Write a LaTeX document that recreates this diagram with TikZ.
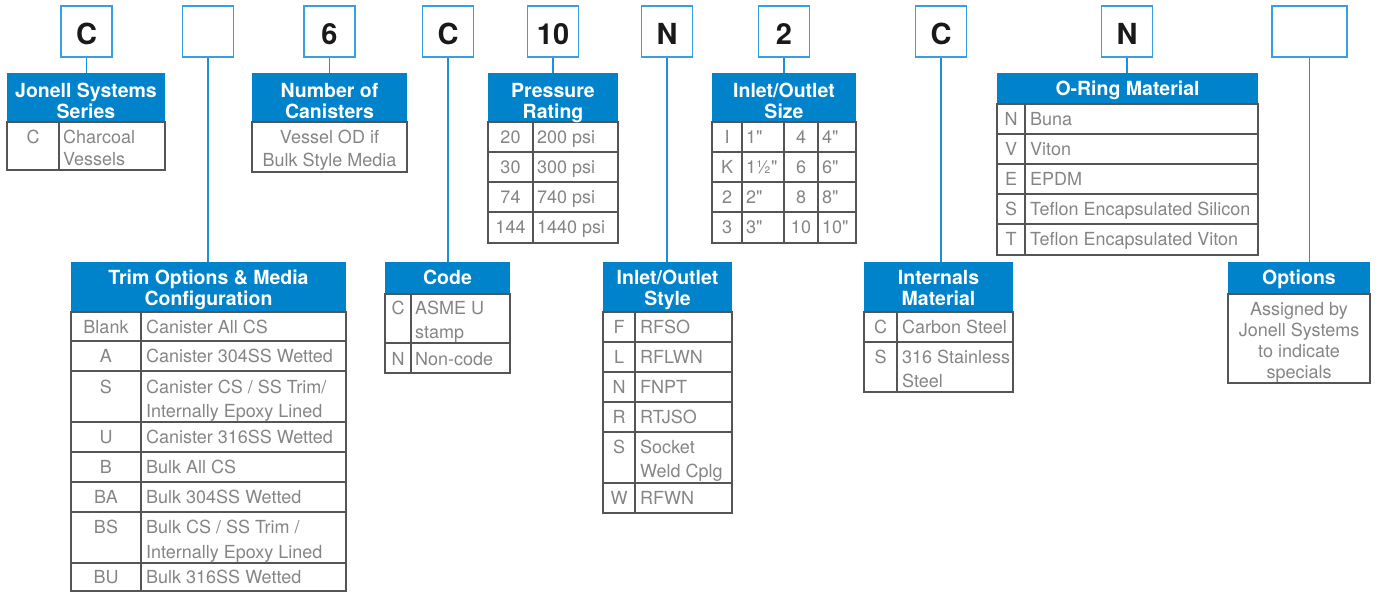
\documentclass[tikz,border=0pt]{standalone}
\usepackage{fontspec}
\setmainfont{TeX Gyre Heros}
\definecolor{hdrblue}{HTML}{0083CA}
\definecolor{boxblue}{HTML}{3A9FE0}
\definecolor{lineblue}{HTML}{1E90D8}
\definecolor{cellgray}{HTML}{555555}
\definecolor{txtgray}{HTML}{858585}
\newcount\tcnt
\newcommand\tn[4][]{\global\advance\tcnt by 1\relax\node[#1] (t\the\tcnt) at (#2,#3) {#4};}
\newcommand\dq{\textquotedbl}
\tikzset{
 topbox/.style={draw=boxblue, line width=1.8pt, minimum width=51pt, minimum height=51pt, inner sep=0pt, font=\fontsize{29}{30}\selectfont\bfseries, text height=26pt, text depth=0pt, text=black!90},
 hdr/.style={fill=hdrblue, inner sep=0pt, outer sep=0pt},
 conn/.style={draw=lineblue, line width=1.8pt},
 gridl/.style={draw=cellgray, line width=1.2pt},
 ht/.style={text=white, font=\fontsize{19.5}{21}\selectfont\bfseries, anchor=base, inner sep=0pt},
 kt/.style={text=txtgray, font=\fontsize{18}{21}\selectfont, anchor=base, inner sep=0pt},
 vt/.style={kt, anchor=base west},
}
\begin{document}
\begin{tikzpicture}[x=1pt,y=-1pt]
\useasboundingbox (0,0) rectangle (1385,592);
% top boxes
\node[topbox] (b1) at (86.5,31.5) {C};
\node[topbox] (b2) at (208,31.5) {};
\node[topbox] (b3) at (329.5,31.5) {6};
\node[topbox] (b4) at (448,31.5) {C};
\node[topbox] (b5) at (553,31.5) {10};
\node[topbox] (b6) at (667,31.5) {N};
\node[topbox] (b7) at (784,31.5) {2};
\node[topbox] (b8) at (941,31.5) {C};
\node[topbox] (b9) at (1127,31.5) {N};
\node[topbox, minimum width=75pt] (b10) at (1309.5,31.5) {};
% headers (named after the box they belong to)
\node[hdr, minimum width=158pt, minimum height=49pt] (h1) at (86,97.5) {};
\node[hdr, minimum width=155pt, minimum height=49pt] (h3) at (329.5,97.5) {};
\node[hdr, minimum width=130pt, minimum height=49pt] (h5) at (553,97.5) {};
\node[hdr, minimum width=144pt, minimum height=49pt] (h7) at (784,97.5) {};
\node[hdr, minimum width=261pt, minimum height=31pt] (h9) at (1127.5,88.5) {};
\node[hdr, minimum width=275pt, minimum height=50pt] (h2) at (208.5,287) {};
\node[hdr, minimum width=125pt, minimum height=32pt] (h4) at (447.5,278) {};
\node[hdr, minimum width=129pt, minimum height=50pt] (h6) at (667.5,287) {};
\node[hdr, minimum width=149pt, minimum height=50pt] (h8) at (938.5,287) {};
\node[hdr, minimum width=142pt, minimum height=32pt] (h10) at (1299,278) {};
% connectors
\foreach \i in {1,...,10}{\draw[conn] (b\i.south) -- (b\i.south |- h\i.north);}
% grids
\draw[gridl] (7,122) rectangle (165,170) (59,122) -- (59,170);
\draw[gridl] (252,122) rectangle (407,172);
\draw[gridl] (488,122) rectangle (618,243);
\foreach \y in {152,182,212}{\draw[gridl] (488,\y) -- (618,\y);}
\draw[gridl] (533,122) -- (533,243);
\draw[gridl] (712,122) rectangle (856,243);
\foreach \y in {152,182,212}{\draw[gridl] (712,\y) -- (856,\y);}
\foreach \x in {742,784,818}{\draw[gridl] (\x,122) -- (\x,243);}
\draw[gridl] (997,104) rectangle (1258,255);
\foreach \y in {134,164,194,224}{\draw[gridl] (997,\y) -- (1258,\y);}
\draw[gridl] (1025,104) -- (1025,255);
\draw[gridl] (71,312) rectangle (346,591);
\foreach \y in {341,371,422,452,482,512,563}{\draw[gridl] (71,\y) -- (346,\y);}
\draw[gridl] (141,312) -- (141,591);
\draw[gridl] (385,294) rectangle (510,373) (385,343) -- (510,343) (411,294) -- (411,373);
\draw[gridl] (603,312) rectangle (732,513);
\foreach \y in {342,372,402,432,483}{\draw[gridl] (603,\y) -- (732,\y);}
\draw[gridl] (635,312) -- (635,513);
\draw[gridl] (864,312) rectangle (1013,392) (864,342) -- (1013,342) (897,312) -- (897,392);
\draw[gridl] (1228,294) rectangle (1370,383);
% header texts
\tn[ht]{86}{97}{Jonell Systems}\tn[ht]{86}{118}{Series}
\tn[ht]{329.5}{97}{Number of}\tn[ht]{329.5}{118}{Canisters}
\tn[ht]{553}{97}{Pressure}\tn[ht]{553}{118}{Rating}
\tn[ht]{784}{97}{Inlet/Outlet}\tn[ht]{784}{118}{Size}
\tn[ht]{1127.5}{95}{O-Ring Material}
\tn[ht]{208.5}{284}{Trim Options \& Media}\tn[ht]{208.5}{305}{Configuration}
\tn[ht]{447.5}{284}{Code}
\tn[ht]{667.5}{284}{Inlet/Outlet}\tn[ht]{667.5}{305}{Style}
\tn[ht]{938.5}{284}{Internals}\tn[ht]{938.5}{305}{Material}
\tn[ht]{1299}{284}{Options}
% table 1
\tn[kt]{33}{143}{C}\tn[vt]{63}{143}{Charcoal}\tn[vt]{63}{165}{Vessels}
% table 2
\tn[kt]{329.5}{143}{Vessel OD if}\tn[kt]{329.5}{166}{Bulk Style Media}
% table 3
\tn[kt]{510.5}{143}{20}\tn[vt]{537}{143}{200 psi}
\tn[kt]{510.5}{173}{30}\tn[vt]{537}{173}{300 psi}
\tn[kt]{510.5}{203}{74}\tn[vt]{537}{203}{740 psi}
\tn[kt]{510.5}{233}{144}\tn[vt]{537}{233}{1440 psi}
% table 4
\tn[kt]{727}{143}{I}\tn[vt]{746}{143}{1\dq}\tn[kt]{801}{143}{4}\tn[vt]{822}{143}{4\dq}
\tn[kt]{727}{173}{K}\tn[vt]{746}{173}{1½\dq}\tn[kt]{801}{173}{6}\tn[vt]{822}{173}{6\dq}
\tn[kt]{727}{203}{2}\tn[vt]{746}{203}{2\dq}\tn[kt]{801}{203}{8}\tn[vt]{822}{203}{8\dq}
\tn[kt]{727}{233}{3}\tn[vt]{746}{233}{3\dq}\tn[kt]{801}{233}{10}\tn[vt]{822}{233}{10\dq}
% table 5
\tn[kt]{1011}{125}{N}\tn[vt]{1030}{125}{Buna}
\tn[kt]{1011}{155}{V}\tn[vt]{1030}{155}{Viton}
\tn[kt]{1011}{185}{E}\tn[vt]{1030}{185}{EPDM}
\tn[kt]{1011}{215}{S}\tn[vt]{1030}{215}{Teflon Encapsulated Silicon}
\tn[kt]{1011}{245}{T}\tn[vt]{1030}{245}{Teflon Encapsulated Viton}
% table 6
\tn[kt]{106}{333}{Blank}\tn[vt]{146}{333}{Canister All CS}
\tn[kt]{106}{362}{A}\tn[vt]{146}{362}{Canister 304SS Wetted}
\tn[kt]{106}{393}{S}\tn[vt]{146}{393}{Canister CS / SS Trim/}\tn[vt]{146}{417}{Internally Epoxy Lined}
\tn[kt]{106}{443}{U}\tn[vt]{146}{443}{Canister 316SS Wetted}
\tn[kt]{106}{473}{B}\tn[vt]{146}{473}{Bulk All CS}
\tn[kt]{106}{503}{BA}\tn[vt]{146}{503}{Bulk 304SS Wetted}
\tn[kt]{106}{533}{BS}\tn[vt]{146}{533}{Bulk CS / SS Trim /}\tn[vt]{146}{558}{Internally Epoxy Lined}
\tn[kt]{106}{583}{BU}\tn[vt]{146}{583}{Bulk 316SS Wetted}
% table 7
\tn[kt]{398}{314}{C}\tn[vt]{415}{314}{ASME U}\tn[vt]{415}{338}{stamp}
\tn[kt]{398}{365}{N}\tn[vt]{415}{365}{Non-code}
% table 8
\tn[kt]{619}{333}{F}\tn[vt]{640}{333}{RFSO}
\tn[kt]{619}{363}{L}\tn[vt]{640}{363}{RFLWN}
\tn[kt]{619}{393}{N}\tn[vt]{640}{393}{FNPT}
\tn[kt]{619}{423}{R}\tn[vt]{640}{423}{RTJSO}
\tn[kt]{619}{453}{S}\tn[vt]{640}{453}{Socket}\tn[vt]{640}{477}{Weld Cplg}
\tn[kt]{619}{504}{W}\tn[vt]{640}{504}{RFWN}
% table 9
\tn[kt]{880.5}{333}{C}\tn[vt]{902}{333}{Carbon Steel}
\tn[kt]{880.5}{363}{S}\tn[vt]{902}{363}{316 Stainless}\tn[vt]{902}{387}{Steel}
% table 10
\tn[kt]{1299}{315}{Assigned by}\tn[kt]{1299}{336}{Jonell Systems}
\tn[kt]{1299}{357}{to indicate}\tn[kt]{1299}{378}{specials}
\end{tikzpicture}
\end{document}
